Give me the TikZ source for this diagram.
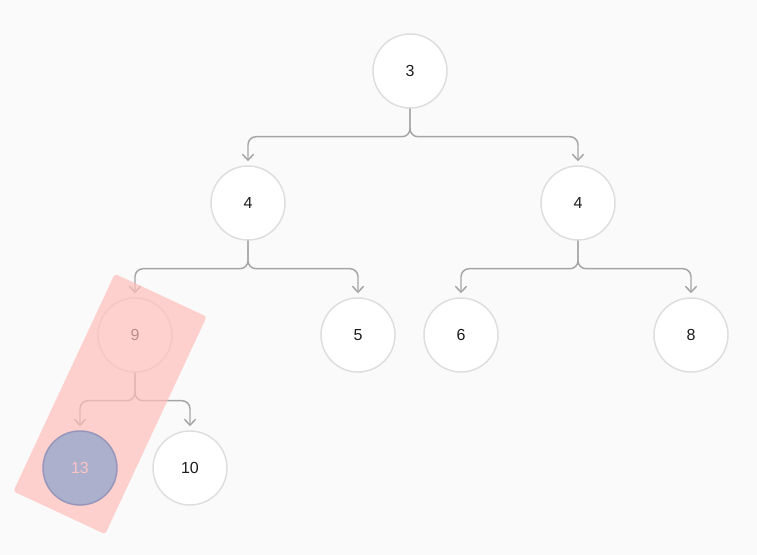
\documentclass[tikz,border=0pt]{standalone}
\usepackage{fontspec}
\setmainfont{Liberation Sans}
\usepackage{xcolor}
\usepackage{tikz}
\usetikzlibrary{arrows.meta, positioning}

\definecolor{canvas}{RGB}{250,250,250}
\definecolor{ringgray}{RGB}{222,222,222}
\definecolor{linkgray}{RGB}{165,165,165}
\definecolor{textdark}{RGB}{28,28,28}
\definecolor{marksalmon}{RGB}{255,190,186}
\definecolor{pickfill}{RGB}{172,176,204}
\definecolor{pickring}{RGB}{150,150,188}
\definecolor{picktext}{RGB}{250,196,200}

\begin{document}
\begin{tikzpicture}[
        x=0.75pt, y=-0.75pt,
        >={Straight Barb[length=4.5pt, width=8.5pt]},
        treenode/.style={
            circle,
            draw=ringgray,
            line width=1.1pt,
            fill=white,
            minimum size=55.5pt,
            inner sep=0pt,
            text=textdark,
            font=\fontsize{12}{14}\selectfont
        },
        link/.style={
            ->,
            draw=linkgray,
            line width=1.1pt,
            rounded corners=6pt,
            shorten >=3pt
        },
        picked/.style={
            treenode,
            fill=pickfill,
            draw=pickring,
            text=picktext
        }
    ]

    % Canvas
    \fill[canvas] (0,0) rectangle (757,555);
    \useasboundingbox (0,0) rectangle (757,555);

    % Nodes
    \node[treenode] (root) at (410,71) {3};
    \node[treenode] (left) at (248,203) {4};
    \node[treenode] (right) at (578,203) {4};
    \node[treenode] (nine) at (135,335) {9};
    \node[treenode] (five) at (358,335) {5};
    \node[treenode] (six) at (461,335) {6};
    \node[treenode] (eight) at (691,335) {8};
    \node[treenode] (ten) at (190,468) {10};
    \coordinate (thirteen pos) at (80,468);

    % Links
    \draw[link] (root.south) -- ++(0,28) -| (left.north);
    \draw[link] (root.south) -- ++(0,28) -| (right.north);
    \draw[link] (left.south) -- ++(0,28) -| (nine.north);
    \draw[link] (left.south) -- ++(0,28) -| (five.north);
    \draw[link] (right.south) -- ++(0,28) -| (six.north);
    \draw[link] (right.south) -- ++(0,28) -| (eight.north);
    \draw[link] (nine.south) -- ++(0,28) -| (thirteen pos |- ten.north);
    \draw[link] (nine.south) -- ++(0,28) -| (ten.north);

    % Highlight band
    \node[fill=marksalmon, fill opacity=0.7, rounded corners=2pt,
          minimum width=76pt, minimum height=180pt, rotate=-25]
          (band) at (110,404) {};

    \node[picked] (thirteen) at (thirteen pos) {13};

\end{tikzpicture}
\end{document}
